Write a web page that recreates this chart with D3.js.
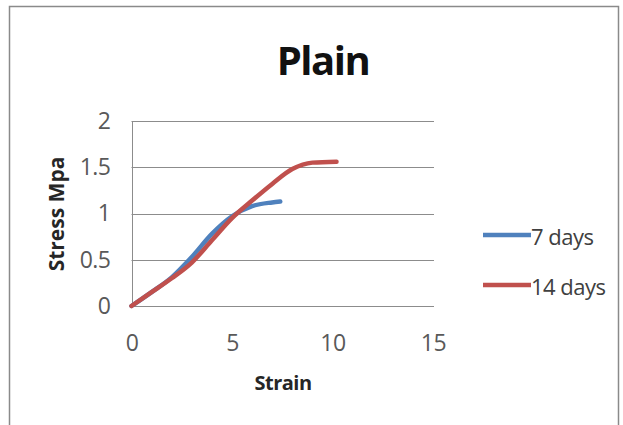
<!DOCTYPE html>
<html>
<head>
<meta charset="utf-8">
<script src="https://cdn.jsdelivr.net/npm/d3@7"></script>
<style>
html,body{margin:0;padding:0;background:#fff;}
svg{display:block;}
</style>
</head>
<body>
<svg id="chart" width="623" height="425"></svg>
<script>
const title = "Plain";
const xLabel = "Strain";
const yLabel = "Stress Mpa";
const seriesNames = ["7 days", "14 days"];
const seriesColors = ["#4F81BD", "#C0504D"];
const strain7 = [0, 1, 2, 3, 4, 5, 6, 7, 7.4];
const stress7 = [0, 0.15, 0.31, 0.53, 0.78, 0.97, 1.08, 1.12, 1.13];
const strain14 = [0, 1, 2, 3, 4, 5, 6, 7, 8, 9, 10.2];
const stress14 = [0, 0.15, 0.30, 0.47, 0.71, 0.95, 1.14, 1.32, 1.48, 1.55, 1.56];
const xTicks = [0, 5, 10, 15];
const yTicks = [0, 0.5, 1, 1.5, 2];

const svg = d3.select("#chart");
const plotL = 131.5, plotR = 433, plotT = 121, plotB = 306;

// outer frame
svg.append("rect").attr("x", 9.5).attr("y", 6.5).attr("width", 609).attr("height", 440)
  .attr("fill", "#fff").attr("stroke", "#8a8a8a").attr("stroke-width", 1.5);

const x = d3.scaleLinear().domain([0, 15]).range([plotL, plotR]);
const y = d3.scaleLinear().domain([0, 2]).range([plotB, plotT]);

// gridlines
svg.append("g").selectAll("line").data(yTicks).join("line")
  .attr("x1", plotL).attr("x2", plotR + 1)
  .attr("y1", d => Math.round(y(d)) + 0.5).attr("y2", d => Math.round(y(d)) + 0.5)
  .attr("stroke", "#8c8c8c").attr("stroke-width", 1);
// vertical axis line
svg.append("line").attr("x1", Math.round(plotL) + 0.5).attr("x2", Math.round(plotL) + 0.5)
  .attr("y1", y(2)).attr("y2", y(0)).attr("stroke", "#8c8c8c");

const font = "'Open Sans', 'Liberation Sans', sans-serif";

// y axis labels
const yAxis = d3.axisLeft(y).tickValues(yTicks).tickSize(0).tickPadding(21)
  .tickFormat(d => String(d));
const gy = svg.append("g").attr("transform", `translate(${plotL},0)`).call(yAxis);
gy.select(".domain").remove();
gy.selectAll("text").attr("font-family", font).attr("font-size", 23).attr("fill", "#595959")
  .attr("letter-spacing", -0.5);

// x axis labels
const xAxis = d3.axisBottom(x).tickValues(xTicks).tickSize(0).tickPadding(29)
  .tickFormat(d => String(d));
const gx = svg.append("g").attr("transform", `translate(0,${plotB})`).call(xAxis);
gx.select(".domain").remove();
gx.selectAll("text").attr("font-family", font).attr("font-size", 23).attr("fill", "#595959")
  .attr("letter-spacing", -0.5);

// title
svg.append("text").attr("x", 323).attr("y", 75).attr("text-anchor", "middle")
  .attr("font-family", font).attr("font-weight", 700).attr("font-size", 40)
  .attr("fill", "#111").attr("letter-spacing", -1.5).text(title);

// axis titles
svg.append("text").attr("x", 283).attr("y", 390).attr("text-anchor", "middle")
  .attr("font-family", font).attr("font-weight", 700).attr("font-size", 20)
  .attr("fill", "#262626").attr("letter-spacing", -0.5).text(xLabel);
svg.append("text").attr("transform", "translate(64,214) rotate(-90)").attr("text-anchor", "middle")
  .attr("font-family", font).attr("font-weight", 700).attr("font-size", 21)
  .attr("fill", "#262626").text(yLabel);

// lines
const line = d3.line().x(d => x(d[0])).y(d => y(d[1])).curve(d3.curveMonotoneX);
const data7 = strain7.map((s, i) => [s, stress7[i]]);
const data14 = strain14.map((s, i) => [s, stress14[i]]);
[data7, data14].forEach((d, i) => {
  svg.append("path").datum(d).attr("d", line).attr("fill", "none")
    .attr("stroke", seriesColors[i]).attr("stroke-width", 4.5).attr("stroke-linecap", "round");
});

// legend
const legY = [235, 285];
seriesNames.forEach((n, i) => {
  svg.append("line").attr("x1", 483).attr("x2", 531).attr("y1", legY[i]).attr("y2", legY[i])
    .attr("stroke", seriesColors[i]).attr("stroke-width", 4.5);
  svg.append("text").attr("x", 531).attr("y", legY[i] + 10).attr("font-family", font)
    .attr("font-size", 22).attr("fill", "#404040").attr("letter-spacing", -0.5).text(n);
});
</script>
</body>
</html>
